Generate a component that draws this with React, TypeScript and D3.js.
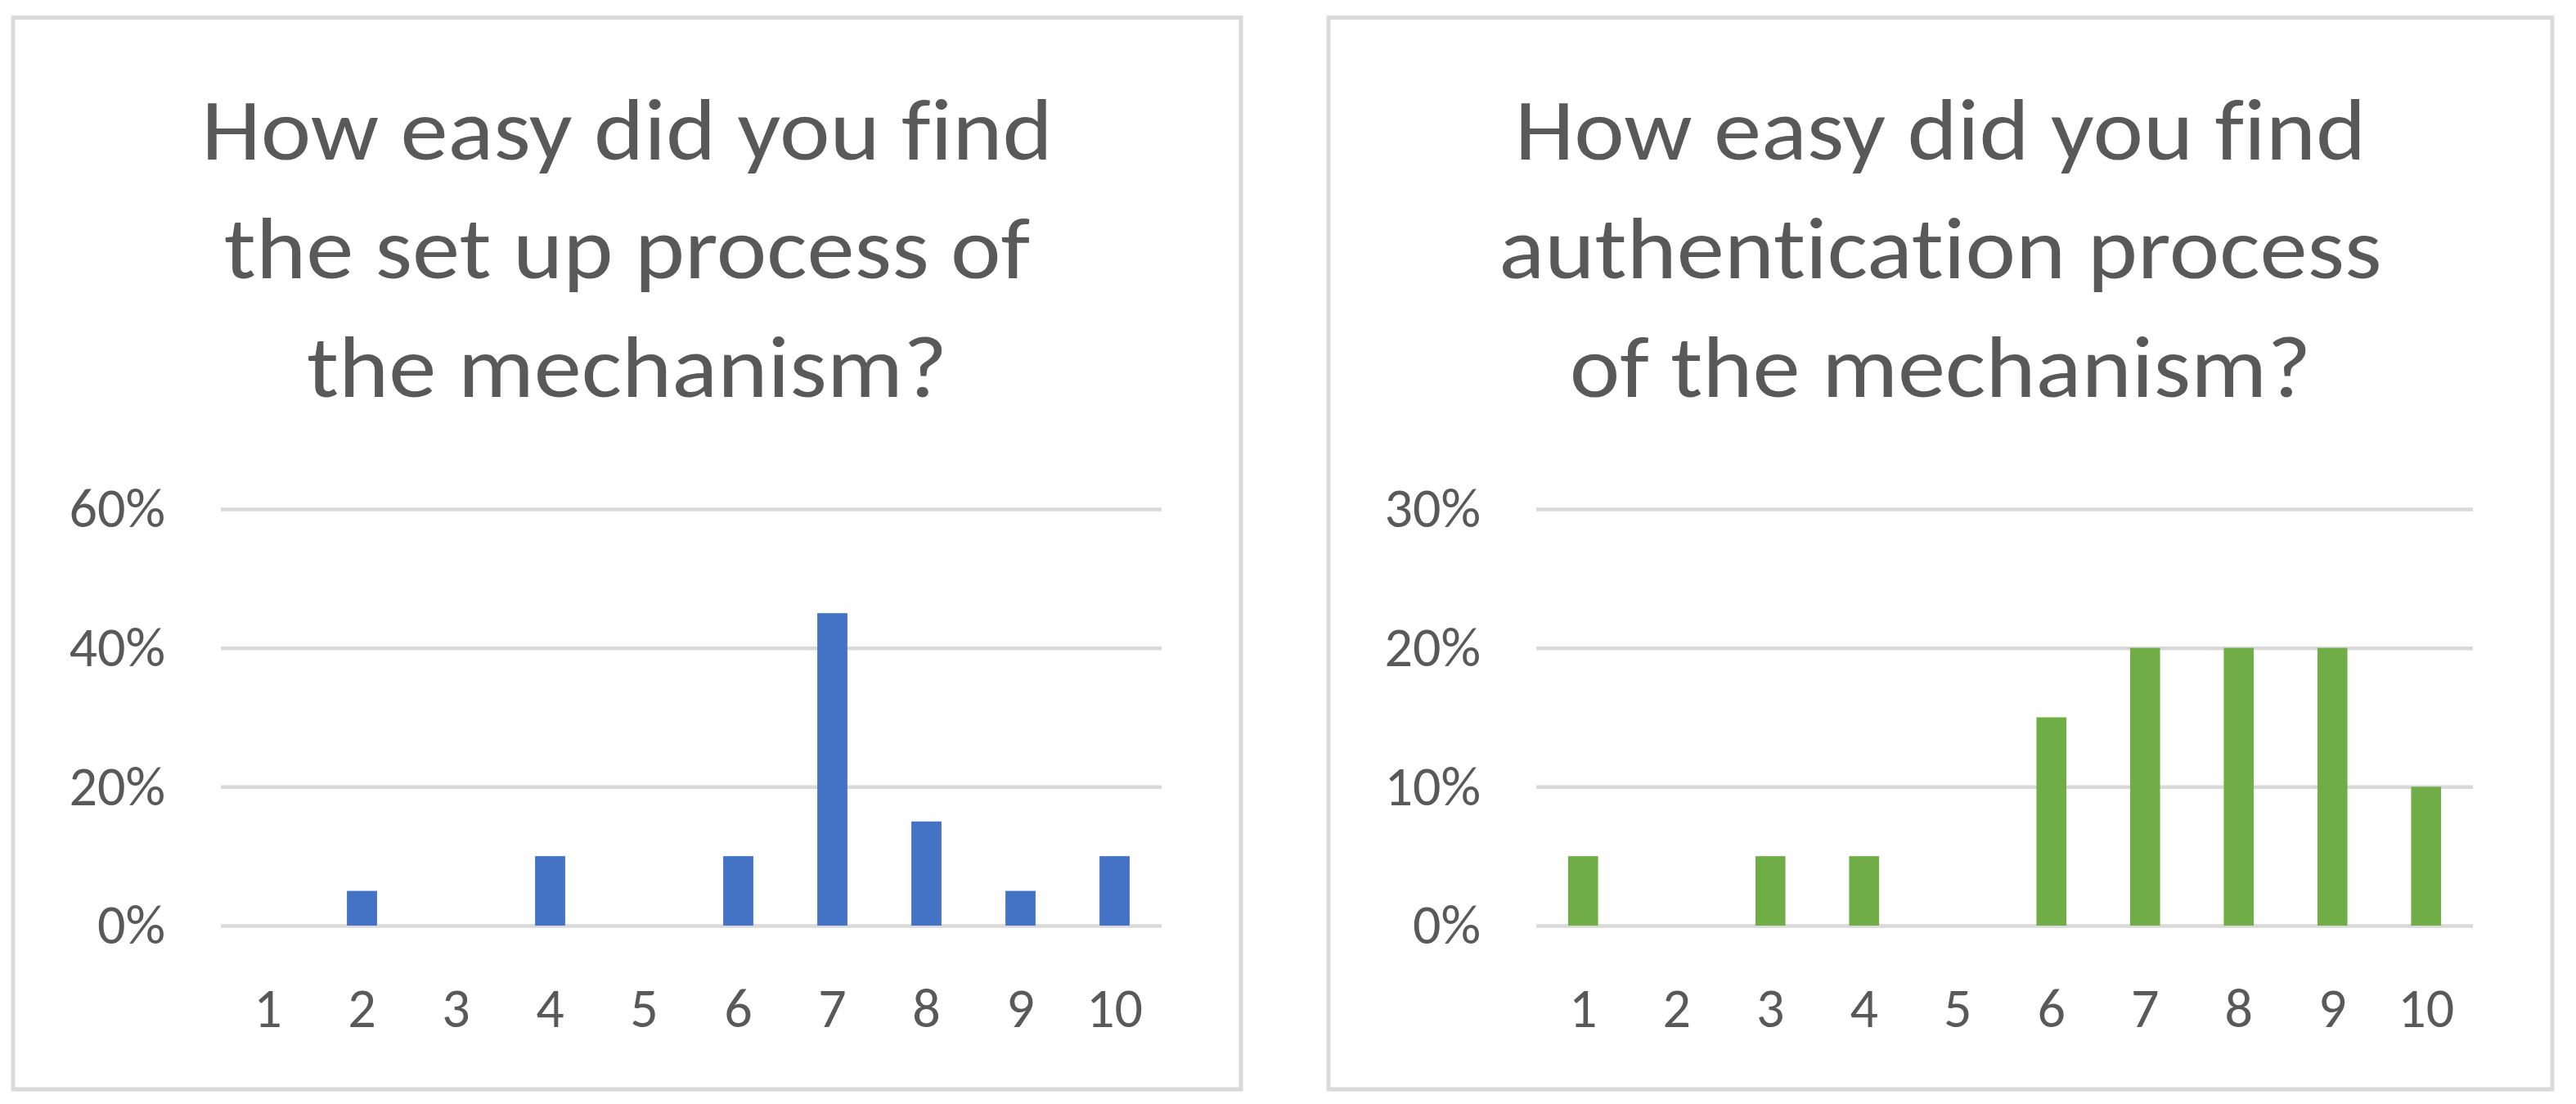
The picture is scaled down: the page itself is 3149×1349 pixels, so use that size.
import React, { useEffect, useRef } from 'react';
import * as d3 from 'd3';

// survey answers, share of respondents per score (%)
const categories = ['1', '2', '3', '4', '5', '6', '7', '8', '9', '10'];
const setupValues = [0, 5, 0, 10, 0, 10, 45, 15, 5, 10];
const authValues = [5, 0, 5, 5, 0, 15, 20, 20, 20, 10];
const setupTicks = [0, 20, 40, 60];
const authTicks = [0, 10, 20, 30];
const setupTitle = ['How easy did you find', 'the set up process of', 'the mechanism?'];
const authTitle = ['How easy did you find', 'authentication process', 'of the mechanism?'];

const FONT = 'Calibri, Carlito, Lato, sans-serif';
const TEXT = '#595959';
const GRID = '#d9d9d9';

const W = 3149;
const H = 1349;

const panels = [
  { x: 16, w: 1501, title: setupTitle, values: setupValues, ticks: setupTicks, color: '#4472c4' },
  { x: 1624, w: 1496, title: authTitle, values: authValues, ticks: authTicks, color: '#70ad47' },
];

const App = () => {
  const ref = useRef<SVGSVGElement | null>(null);

  useEffect(() => {
    if (!ref.current) return;
    const svg = d3.select(ref.current);
    svg.selectAll('*').remove();

    const top = 21.5;
    const bottom = 1331;
    const y0 = 1131;
    const y1 = 622;

    panels.forEach(p => {
      const g = svg.append('g');

      g.append('rect')
        .attr('x', p.x)
        .attr('y', top)
        .attr('width', p.w)
        .attr('height', bottom - top)
        .attr('fill', '#fff')
        .attr('stroke', GRID)
        .attr('stroke-width', 5);

      // title (Lato is wider-set than Calibri, so stretch it a bit)
      g.append('text')
        .attr('transform', `translate(${p.x + p.w / 2},0) scale(1.1,1)`)
        .attr('text-anchor', 'middle')
        .attr('font-family', FONT)
        .attr('font-size', 106)
        .attr('fill', TEXT)
        .style('font-variant-ligatures', 'none')
        .selectAll('tspan')
        .data(p.title)
        .join('tspan')
        .attr('x', 0)
        .attr('y', (_d, i) => 195 + i * 145)
        .text(d => d);

      const left = p.x + 254;
      const right = p.x + p.w - 97;

      const x = d3.scaleBand()
        .domain(categories)
        .range([left, right])
        .paddingInner(0.68)
        .paddingOuter(0.34);

      const y = d3.scaleLinear()
        .domain([0, d3.max(p.ticks) as number])
        .range([y0, y1]);

      const yAxis = g.append('g')
        .attr('transform', `translate(${left},0)`)
        .call(d3.axisLeft(y)
          .tickValues(p.ticks)
          .tickFormat(d => `${d}%`)
          .tickSize(-(right - left))
          .tickPadding(68));
      yAxis.select('.domain').remove();
      yAxis.selectAll('line').attr('stroke', GRID).attr('stroke-width', 4.5);
      yAxis.selectAll('text')
        .attr('font-family', FONT)
        .attr('font-size', 68)
        .attr('fill', TEXT);

      const xAxis = g.append('g')
        .attr('transform', `translate(0,${y0})`)
        .call(d3.axisBottom(x).tickSize(0).tickPadding(76));
      xAxis.select('.domain').remove();
      xAxis.selectAll('text')
        .attr('font-family', FONT)
        .attr('font-size', 68)
        .attr('fill', TEXT);

      g.selectAll('rect.bar')
        .data(p.values.map((v, i) => ({ cat: categories[i], v })))
        .join('rect')
        .attr('class', 'bar')
        .attr('x', d => x(d.cat) as number)
        .attr('width', x.bandwidth())
        .attr('y', d => y(d.v))
        .attr('height', d => y0 - y(d.v))
        .attr('fill', p.color);
    });
  }, []);

  return (
    <svg
      ref={ref}
      width={W}
      height={H}
      style={{ position: 'absolute', left: 0, top: 0, background: '#fff' }}
    />
  );
};

export default App;
